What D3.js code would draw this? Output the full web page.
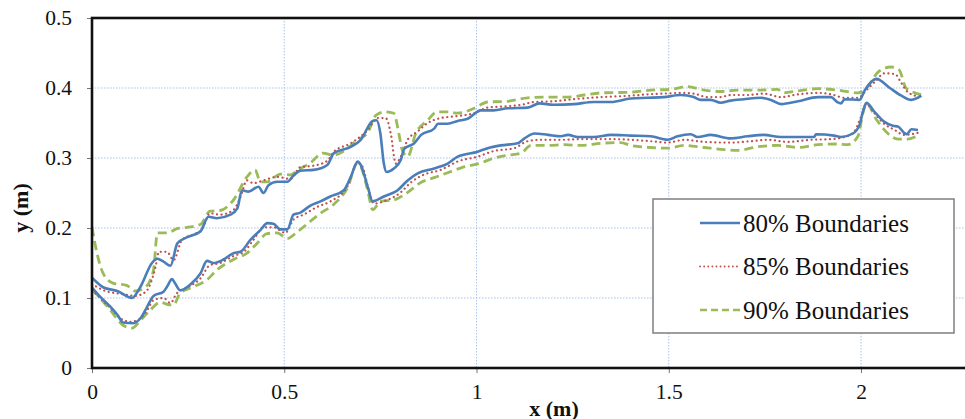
<!DOCTYPE html>
<html lang="en">
<head>
  <meta charset="UTF-8">
  <title>Boundaries</title>
  <style type="text/css">
    body { margin: 0; padding: 0; background: #fff; overflow: hidden; }
    text { font-family: "Liberation Serif", "Times New Roman", serif; }
  </style>
  <script src="https://cdn.jsdelivr.net/npm/d3@7"></script>
</head>
<body>
<div id="viewport"></div>
<script>
// boundary lines, [x (m), y (m)]
var upper80 = [[0,0.129],[0.03,0.115],[0.066,0.110],[0.104,0.100],[0.126,0.116],[0.156,0.150],[0.17,0.156],[0.186,0.152],[0.204,0.146],[0.222,0.178],[0.248,0.187],[0.282,0.195],[0.303,0.216],[0.325,0.214],[0.36,0.219],[0.378,0.228],[0.39,0.254],[0.407,0.252],[0.433,0.259],[0.446,0.25],[0.459,0.261],[0.482,0.266],[0.508,0.266],[0.524,0.275],[0.542,0.282],[0.576,0.283],[0.612,0.29],[0.629,0.307],[0.673,0.316],[0.699,0.326],[0.73,0.353],[0.74,0.354],[0.75,0.335],[0.759,0.292],[0.766,0.28],[0.785,0.285],[0.803,0.297],[0.812,0.313],[0.838,0.321],[0.856,0.333],[0.89,0.342],[0.9,0.349],[0.925,0.349],[0.951,0.353],[0.977,0.356],[1.011,0.368],[1.045,0.368],[1.081,0.371],[1.133,0.372],[1.164,0.378],[1.2,0.376],[1.253,0.377],[1.305,0.38],[1.35,0.38],[1.401,0.385],[1.445,0.386],[1.487,0.387],[1.531,0.39],[1.565,0.387],[1.583,0.383],[1.609,0.383],[1.635,0.379],[1.661,0.382],[1.695,0.384],[1.74,0.386],[1.766,0.383],[1.792,0.377],[1.836,0.381],[1.888,0.387],[1.922,0.387],[1.938,0.38],[1.948,0.378],[1.957,0.384],[1.996,0.383],[2.01,0.397],[2.04,0.413],[2.075,0.4],[2.105,0.389],[2.131,0.383],[2.157,0.389]];
var lower80 = [[0,0.115],[0.021,0.102],[0.047,0.088],[0.066,0.076],[0.081,0.065],[0.107,0.064],[0.126,0.071],[0.143,0.087],[0.16,0.103],[0.186,0.109],[0.195,0.116],[0.208,0.127],[0.216,0.121],[0.229,0.111],[0.255,0.119],[0.282,0.135],[0.299,0.153],[0.316,0.15],[0.342,0.155],[0.368,0.164],[0.386,0.166],[0.412,0.183],[0.438,0.197],[0.456,0.207],[0.472,0.206],[0.49,0.198],[0.508,0.198],[0.524,0.219],[0.542,0.222],[0.568,0.232],[0.594,0.238],[0.62,0.245],[0.655,0.254],[0.673,0.273],[0.691,0.295],[0.699,0.29],[0.717,0.259],[0.73,0.238],[0.759,0.245],[0.795,0.254],[0.821,0.268],[0.847,0.278],[0.89,0.285],[0.925,0.292],[0.951,0.302],[1.003,0.309],[1.029,0.314],[1.063,0.318],[1.107,0.321],[1.125,0.328],[1.151,0.335],[1.186,0.333],[1.22,0.331],[1.238,0.333],[1.264,0.33],[1.305,0.33],[1.35,0.333],[1.401,0.332],[1.453,0.331],[1.497,0.326],[1.523,0.331],[1.557,0.334],[1.575,0.33],[1.609,0.333],[1.661,0.328],[1.705,0.331],[1.747,0.333],[1.792,0.33],[1.878,0.33],[1.883,0.334],[1.93,0.332],[1.948,0.33],[1.979,0.335],[1.996,0.347],[2.006,0.368],[2.014,0.379],[2.035,0.366],[2.06,0.352],[2.083,0.346],[2.096,0.345],[2.112,0.336],[2.119,0.334],[2.131,0.341],[2.148,0.34]];
var upper85 = [[0,0.12],[0.035,0.11],[0.075,0.106],[0.112,0.103],[0.14,0.109],[0.165,0.144],[0.174,0.166],[0.195,0.166],[0.212,0.154],[0.234,0.183],[0.26,0.19],[0.286,0.198],[0.307,0.221],[0.333,0.219],[0.368,0.226],[0.386,0.244],[0.403,0.268],[0.42,0.264],[0.446,0.268],[0.482,0.273],[0.516,0.27],[0.542,0.287],[0.576,0.289],[0.612,0.296],[0.629,0.309],[0.673,0.321],[0.717,0.34],[0.743,0.357],[0.764,0.357],[0.777,0.335],[0.79,0.292],[0.803,0.302],[0.821,0.326],[0.847,0.338],[0.873,0.35],[0.907,0.357],[0.951,0.36],[0.994,0.364],[1.029,0.372],[1.081,0.374],[1.116,0.376],[1.151,0.38],[1.2,0.381],[1.253,0.384],[1.323,0.387],[1.401,0.389],[1.445,0.391],[1.487,0.392],[1.531,0.393],[1.565,0.392],[1.6,0.387],[1.635,0.387],[1.661,0.39],[1.705,0.39],[1.747,0.392],[1.792,0.387],[1.836,0.391],[1.888,0.393],[1.922,0.391],[1.957,0.386],[1.992,0.386],[2.016,0.398],[2.04,0.411],[2.06,0.421],[2.088,0.42],[2.105,0.407],[2.122,0.394],[2.157,0.387]];
var lower85 = [[0,0.111],[0.021,0.1],[0.047,0.086],[0.074,0.071],[0.1,0.066],[0.121,0.069],[0.143,0.082],[0.16,0.097],[0.186,0.1],[0.204,0.093],[0.221,0.107],[0.248,0.115],[0.282,0.128],[0.307,0.147],[0.333,0.15],[0.368,0.16],[0.395,0.166],[0.42,0.183],[0.446,0.201],[0.472,0.201],[0.503,0.193],[0.524,0.212],[0.55,0.219],[0.585,0.23],[0.62,0.238],[0.664,0.259],[0.691,0.293],[0.703,0.288],[0.72,0.254],[0.733,0.235],[0.768,0.24],[0.803,0.251],[0.829,0.265],[0.862,0.276],[0.907,0.283],[0.951,0.295],[1.003,0.302],[1.046,0.31],[1.098,0.314],[1.133,0.324],[1.168,0.326],[1.22,0.326],[1.273,0.327],[1.342,0.327],[1.401,0.326],[1.453,0.324],[1.497,0.322],[1.54,0.326],[1.592,0.323],[1.661,0.322],[1.713,0.324],[1.757,0.326],[1.809,0.323],[1.87,0.326],[1.922,0.327],[1.957,0.33],[1.983,0.338],[2.0,0.359],[2.014,0.377],[2.035,0.364],[2.06,0.349],[2.088,0.34],[2.112,0.333],[2.148,0.336]];
var upper90 = [[0,0.201],[0.013,0.164],[0.03,0.134],[0.056,0.121],[0.09,0.118],[0.112,0.11],[0.14,0.116],[0.16,0.14],[0.17,0.193],[0.195,0.193],[0.221,0.199],[0.247,0.201],[0.282,0.205],[0.307,0.224],[0.333,0.225],[0.368,0.24],[0.403,0.273],[0.424,0.283],[0.438,0.266],[0.455,0.266],[0.49,0.277],[0.516,0.276],[0.538,0.284],[0.568,0.293],[0.6,0.307],[0.629,0.304],[0.655,0.31],[0.691,0.326],[0.717,0.336],[0.738,0.361],[0.764,0.366],[0.785,0.364],[0.798,0.335],[0.806,0.313],[0.821,0.302],[0.842,0.335],[0.873,0.354],[0.898,0.366],[0.925,0.366],[0.951,0.364],[0.994,0.371],[1.029,0.38],[1.081,0.381],[1.133,0.386],[1.186,0.387],[1.238,0.387],[1.281,0.39],[1.323,0.393],[1.401,0.394],[1.453,0.397],[1.505,0.398],[1.547,0.402],[1.592,0.397],[1.635,0.395],[1.679,0.397],[1.731,0.397],[1.783,0.398],[1.797,0.393],[1.836,0.396],[1.888,0.399],[1.939,0.397],[1.992,0.393],[2.016,0.401],[2.045,0.423],[2.078,0.43],[2.099,0.426],[2.117,0.4],[2.14,0.393],[2.166,0.39]];
var lower90 = [[0,0.112],[0.021,0.1],[0.047,0.083],[0.081,0.061],[0.104,0.057],[0.126,0.068],[0.152,0.083],[0.178,0.094],[0.195,0.091],[0.212,0.09],[0.229,0.107],[0.264,0.116],[0.299,0.126],[0.325,0.14],[0.368,0.155],[0.403,0.164],[0.429,0.178],[0.455,0.192],[0.481,0.193],[0.508,0.185],[0.533,0.194],[0.56,0.206],[0.594,0.221],[0.629,0.234],[0.664,0.257],[0.691,0.293],[0.699,0.288],[0.717,0.254],[0.73,0.226],[0.751,0.238],[0.785,0.24],[0.821,0.251],[0.855,0.265],[0.89,0.272],[0.925,0.279],[0.96,0.286],[1.012,0.293],[1.046,0.3],[1.081,0.304],[1.116,0.307],[1.142,0.318],[1.186,0.318],[1.229,0.319],[1.273,0.318],[1.323,0.321],[1.375,0.322],[1.401,0.318],[1.453,0.315],[1.497,0.314],[1.54,0.318],[1.592,0.315],[1.644,0.312],[1.679,0.311],[1.731,0.316],[1.783,0.318],[1.836,0.315],[1.888,0.319],[1.939,0.32],[1.966,0.319],[1.992,0.331],[2.005,0.364],[2.014,0.378],[2.04,0.355],[2.07,0.335],[2.096,0.327],[2.122,0.327],[2.148,0.332]];

var xTicks = [0, 0.5, 1, 1.5, 2];
var yTicks = [0, 0.1, 0.2, 0.3, 0.4, 0.5];
var legendLabels = ["80% Boundaries", "85% Boundaries", "90% Boundaries"];

var w = 965, h = 419;
var padLeft = 92, padTop = 18, padBottom = 368;

var svg = d3.select("#viewport").append("svg")
            .attr("width", w)
            .attr("height", h);

var x = d3.scaleLinear().domain([0, 2.5]).range([padLeft, padLeft + 2.5 * 384.5]);
var y = d3.scaleLinear().domain([0, 0.5]).range([padBottom, padTop]);

svg.append("defs").append("clipPath").attr("id", "plotclip")
   .append("rect")
   .attr("x", padLeft).attr("y", padTop)
   .attr("width", x(2.5) - padLeft).attr("height", padBottom - padTop);

// grid
var grid = svg.append("g");
grid.selectAll("line.gx").data(xTicks.slice(1)).enter().append("line")
    .attr("x1", d => x(d)).attr("x2", d => x(d))
    .attr("y1", padTop).attr("y2", padBottom)
    .attr("stroke", "#a9c3ea").attr("stroke-width", 1)
    .attr("stroke-dasharray", "1.5,1.5");
grid.selectAll("line.gy").data(yTicks.slice(1, -1)).enter().append("line")
    .attr("x1", padLeft).attr("x2", x(2.5))
    .attr("y1", d => y(d)).attr("y2", d => y(d))
    .attr("stroke", "#a9c3ea").attr("stroke-width", 1)
    .attr("stroke-dasharray", "1.5,1.5");

var series = [
  {lines: [upper80, lower80], color: "#4a7ebb", width: 2.6, dash: null, cap: "butt"},
  {lines: [upper85, lower85], color: "#c0504d", width: 2.2, dash: "0.1,4.5", cap: "round"},
  {lines: [upper90, lower90], color: "#9bbb59", width: 2.8, dash: "9,5", cap: "butt"}
];

var line = d3.line()
             .x(d => x(d[0]))
             .y(d => y(d[1]))
             .curve(d3.curveMonotoneX);

var plot = svg.append("g").attr("clip-path", "url(#plotclip)");
// draw green first, blue on top
series.slice().reverse().forEach(function(s) {
  s.lines.forEach(function(pts) {
    plot.append("path")
        .attr("d", line(pts))
        .attr("fill", "none")
        .attr("stroke", s.color)
        .attr("stroke-width", s.width)
        .attr("stroke-linecap", s.cap)
        .attr("stroke-linejoin", "round")
        .attr("stroke-dasharray", s.dash);
  });
});

// axes
var xAxis = svg.append("g").attr("transform", "translate(0," + padBottom + ")")
    .call(d3.axisBottom(x).tickValues(xTicks).tickSize(5).tickPadding(11).tickFormat(d3.format("")));
var yAxis = svg.append("g").attr("transform", "translate(" + padLeft + ",0)")
    .call(d3.axisLeft(y).tickValues(yTicks).tickSize(5).tickPadding(15).tickFormat(d3.format("")));
[xAxis, yAxis].forEach(function(a) {
  a.select(".domain").remove();
  a.selectAll(".tick line").attr("stroke", "#777").attr("stroke-width", 1);
  a.selectAll(".tick text")
   .attr("fill", "#111")
   .style("font-family", "'Liberation Serif', serif")
   .style("font-size", "21.5px");
});

// frame
svg.append("rect")
   .attr("x", padLeft).attr("y", padTop)
   .attr("width", x(2.5) - padLeft).attr("height", padBottom - padTop)
   .attr("fill", "none")
   .attr("stroke", "#111").attr("stroke-width", 2.6);

// axis titles
svg.append("text")
   .attr("x", 554).attr("y", 416)
   .attr("text-anchor", "middle")
   .style("font-size", "22px").style("font-weight", "bold")
   .attr("fill", "#111")
   .text("x (m)");
svg.append("text")
   .attr("transform", "translate(28,208) rotate(-90)")
   .attr("text-anchor", "middle")
   .style("font-size", "22px").style("font-weight", "bold")
   .attr("fill", "#111")
   .text("y (m)");

// legend
var lg = svg.append("g");
lg.append("rect")
  .attr("x", 653).attr("y", 199)
  .attr("width", 301).attr("height", 134)
  .attr("fill", "#fff")
  .attr("stroke", "#7f7f7f").attr("stroke-width", 1.5);
legendLabels.forEach(function(lab, i) {
  var s = series[i];
  var cy = 223 + i * 43.5;
  lg.append("line")
    .attr("x1", 700).attr("x2", 740)
    .attr("y1", cy).attr("y2", cy)
    .attr("stroke", s.color)
    .attr("stroke-width", i == 1 ? 1.8 : 2.6)
    .attr("stroke-linecap", s.cap)
    .attr("stroke-dasharray", i == 1 ? "0.1,4" : (i == 2 ? "7,4" : null));
  lg.append("text")
    .attr("x", 743).attr("y", cy + 8.5)
    .style("font-size", "25px")
    .attr("fill", "#111")
    .text(lab);
});
</script>
</body>
</html>
